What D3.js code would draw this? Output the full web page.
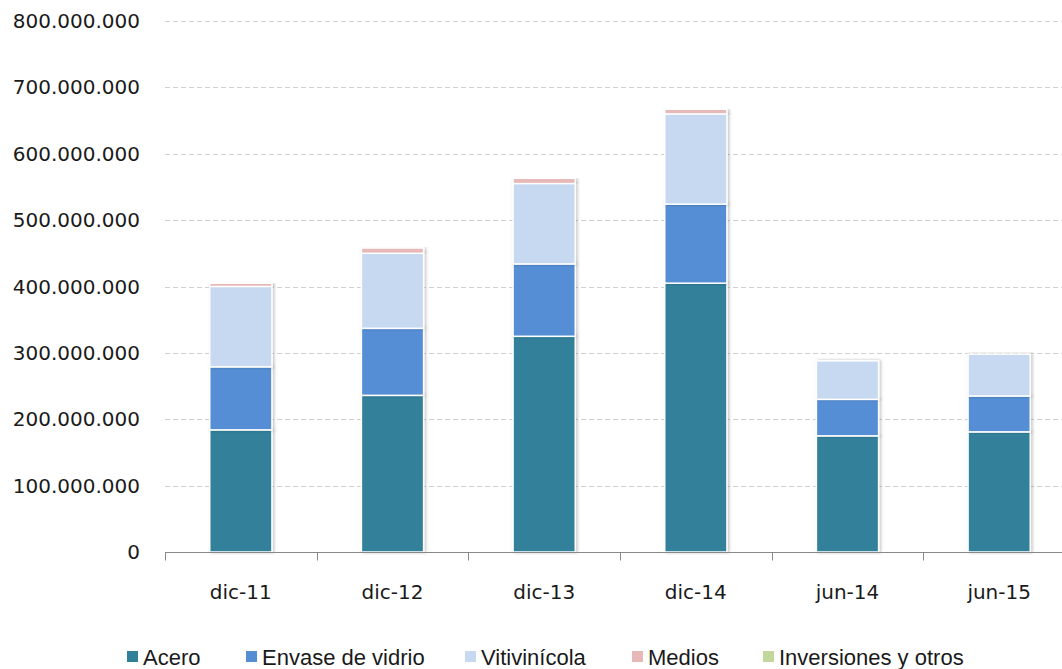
<!DOCTYPE html>
<html>
<head>
<meta charset="utf-8">
<script src="https://d3js.org/d3.v7.min.js"></script>
<style>
  body { margin: 0; background: #fff; }
  svg { display: block; }
</style>
</head>
<body>
<div id="chart"></div>
<script>
// data
var periods = ["dic-11", "dic-12", "dic-13", "dic-14", "jun-14", "jun-15"];
var seriesNames = ["Acero", "Envase de vidrio", "Vitivinícola", "Medios", "Inversiones y otros"];
var acero       = [184e6, 236e6, 325e6, 405e6, 175e6, 181e6];
var envase      = [ 95e6, 101e6, 109e6, 119e6,  55e6,  54e6];
var vitivinicola= [121e6, 113e6, 121e6, 136e6,  58e6,  63e6];
var medios      = [  5e6,   8e6,   8e6,   7e6,   0,     0  ];
var inversiones = [  0,     0,     0,     0,     0,     0  ];
var yTicks = [0, 100e6, 200e6, 300e6, 400e6, 500e6, 600e6, 700e6, 800e6];
var colors = ["#31809a", "#558ed5", "#c6d9f1", "#e6b9b8", "#c3d69b"];

var width = 1062, height = 669;
var x0 = 165, x1 = 1075, yTop = 21, yBase = 552;

var rows = periods.map(function(p, i) {
  return { period: p, s0: acero[i], s1: envase[i], s2: vitivinicola[i], s3: medios[i], s4: inversiones[i] };
});
var keys = ["s0", "s1", "s2", "s3", "s4"];
var stacked = d3.stack().keys(keys)(rows);

var x = d3.scaleBand().domain(periods).range([x0, x1]).paddingInner(0.59).paddingOuter(0.295);
var y = d3.scaleLinear().domain([0, 800e6]).range([yBase, yTop]);

var svg = d3.select("#chart").append("svg")
  .attr("width", width).attr("height", height);

var defs = svg.append("defs");
var f = defs.append("filter").attr("id", "shadow").attr("x", "-20%").attr("y", "-5%").attr("width", "140%").attr("height", "110%");
f.append("feDropShadow").attr("dx", 1.5).attr("dy", 0).attr("stdDeviation", 1.5)
  .attr("flood-color", "#000").attr("flood-opacity", 0.25);

// gridlines
svg.append("g").selectAll("line")
  .data(yTicks.filter(function(d) { return d > 0; }))
  .join("line")
    .attr("x1", x0).attr("x2", width)
    .attr("y1", function(d) { return Math.round(y(d)) + 0.5; })
    .attr("y2", function(d) { return Math.round(y(d)) + 0.5; })
    .attr("stroke", "#d0d0d0")
    .attr("stroke-dasharray", "5,3");

// y labels
var fmt = function(d) { return d3.format(",")(d).replace(/,/g, "."); };
svg.append("g").selectAll("text")
  .data(yTicks)
  .join("text")
    .attr("x", 140)
    .attr("y", function(d) { return y(d); })
    .attr("dy", "0.35em")
    .attr("text-anchor", "end")
    .attr("font-family", "DejaVu Sans, Verdana, sans-serif")
    .attr("font-size", 20)
    .attr("fill", "#1a1a1a")
    .text(fmt);

// bars
svg.append("g").selectAll("g")
  .data(stacked)
  .join("g")
    .attr("fill", function(d, i) { return colors[i]; })
  .selectAll("rect")
  .data(function(d) { return d.filter(function(e) { return e[1] - e[0] > 0; }); })
  .join("rect")
    .attr("x", function(d) { return x(d.data.period); })
    .attr("y", function(d) { return y(d[1]); })
    .attr("width", x.bandwidth())
    .attr("height", function(d) { return y(d[0]) - y(d[1]); })
    .attr("stroke", "#fff")
    .attr("stroke-width", 1.5)
    .attr("filter", "url(#shadow)");

// x axis
var xAxis = svg.append("g").attr("transform", "translate(0," + (yBase + 0.5) + ")");
xAxis.append("line").attr("x1", x0).attr("x2", width).attr("stroke", "#888");
var step = x.step();
xAxis.selectAll("line.tick")
  .data(d3.range(periods.length + 1))
  .join("line").attr("class", "tick")
    .attr("x1", function(i) { return Math.round(x0 + i * step) + 0.5; })
    .attr("x2", function(i) { return Math.round(x0 + i * step) + 0.5; })
    .attr("y1", 0).attr("y2", 8)
    .attr("stroke", "#888");
xAxis.selectAll("text")
  .data(periods)
  .join("text")
    .attr("x", function(d) { return x(d) + x.bandwidth() / 2; })
    .attr("y", 46)
    .attr("text-anchor", "middle")
    .attr("font-family", "DejaVu Sans, Verdana, sans-serif")
    .attr("font-size", 20)
    .attr("fill", "#1a1a1a")
    .text(function(d) { return d; });

// legend
var legendX = [127, 246, 465, 632, 763];
var legend = svg.append("g").attr("transform", "translate(0,657)");
var item = legend.selectAll("g")
  .data(seriesNames)
  .join("g")
    .attr("transform", function(d, i) { return "translate(" + legendX[i] + ",0)"; });
item.append("rect")
  .attr("x", 0).attr("y", -6).attr("width", 11).attr("height", 11)
  .attr("fill", function(d, i) { return colors[i]; });
item.append("text")
  .attr("x", 16).attr("dy", "0.35em")
  .attr("font-family", "Liberation Sans Narrow, Arial Narrow, sans-serif")
  .attr("font-size", 22)
  .attr("fill", "#1a1a1a")
  .text(function(d) { return d; });
</script>
</body>
</html>
